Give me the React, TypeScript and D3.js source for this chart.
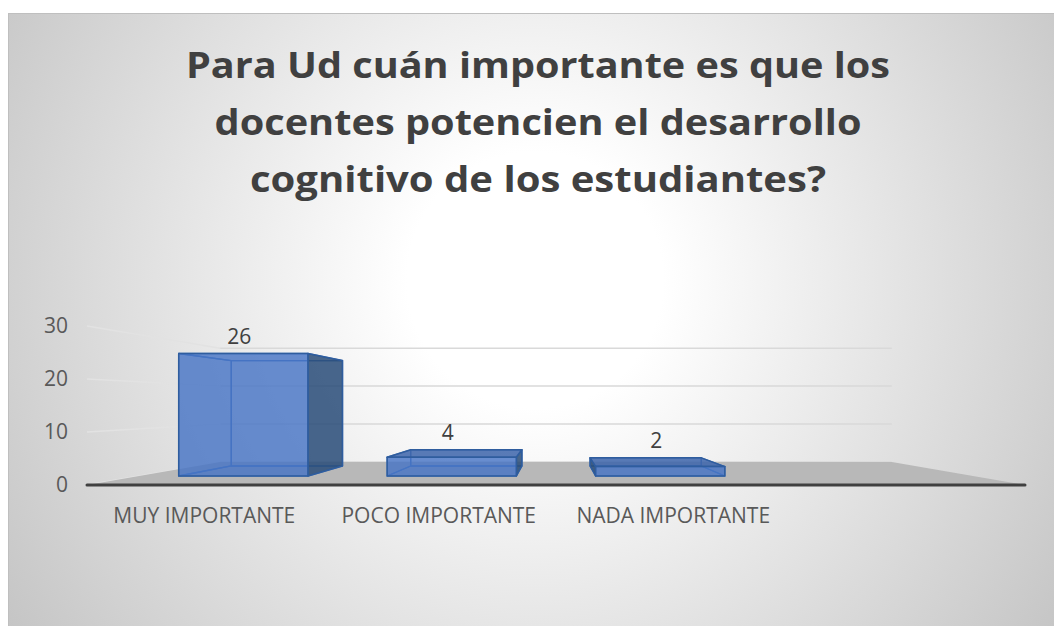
import React from 'react';
import * as d3 from 'd3';

const categories = ['MUY IMPORTANTE', 'POCO IMPORTANTE', 'NADA IMPORTANTE', ''];
const values: (number | null)[] = [26, 4, 2, null];
const yTicks = [0, 10, 20, 30];
const titleLines = [
  'Para Ud cuán importante es que los',
  'docentes potencien el desarrollo',
  'cognitivo de los estudiantes?',
];
const titleWidths = [704, 647, 576];

const width = 1054;
const height = 626;

// front plane of the 3d box
const left = 87;
const right = 1025;
const floorY = 485;
const topY = 326;
const backFloorY = 462;
const backScale = 0.716;
const vx = (left + right) / 2;
const vy = (backFloorY - floorY * backScale) / (1 - backScale);
const k = 1 / backScale - 1;
const barDepth = [0.315, 0.774];

const x = d3.scaleBand().domain(categories.map((c, i) => i + ':' + c)).range([left, right])
  .paddingInner(0.38).paddingOuter(0.19);
const xStep = d3.scaleBand().domain(categories.map((c, i) => i + ':' + c)).range([left, right]);
const y = d3.scaleLinear().domain([0, 30]).range([floorY, topY]);

function project(px: number, py: number, z: number): [number, number] {
  const s = 1 / (1 + k * z);
  return [vx + (px - vx) * s, vy + (py - vy) * s];
}

const line = d3.line();
const poly = (pts: [number, number, number][]) => line(pts.map(p => project(p[0], p[1], p[2])))! + 'Z';

function Bar({ i, v }: { i: number; v: number }) {
  const key = i + ':' + categories[i];
  const x0 = x(key)!;
  const x1 = x0 + x.bandwidth();
  const y0 = floorY;
  const y1 = y(v);
  const [z0, z1] = barDepth;
  const faces = {
    front: [[x0, y0, z0], [x1, y0, z0], [x1, y1, z0], [x0, y1, z0]],
    back: [[x0, y0, z1], [x1, y0, z1], [x1, y1, z1], [x0, y1, z1]],
    left: [[x0, y0, z0], [x0, y0, z1], [x0, y1, z1], [x0, y1, z0]],
    right: [[x1, y0, z0], [x1, y0, z1], [x1, y1, z1], [x1, y1, z0]],
    top: [[x0, y1, z0], [x1, y1, z0], [x1, y1, z1], [x0, y1, z1]],
    bottom: [[x0, y0, z0], [x1, y0, z0], [x1, y0, z1], [x0, y0, z1]],
  } as Record<string, [number, number, number][]>;
  const leftVis = x0 > vx;
  const rightVis = x1 < vx;
  const topVis = y1 > vy;
  const hidden = ['back', 'bottom'];
  if (!leftVis) hidden.push('left');
  if (!rightVis) hidden.push('right');
  if (!topVis) hidden.push('top');
  const cx = (x0 + x1) / 2;
  const labelX = project(cx, y1, z0)[0] - 4;
  const labelY = project(cx, y1, (z0 + z1) / 2)[1] - 21;
  return (
    <g>
      {hidden.map(f => (
        <path key={f} d={poly(faces[f])} fill="none" stroke="#4a7bbd" strokeWidth={1.3} strokeLinejoin="round" />
      ))}
      {leftVis && <path d={poly(faces.left)} fill="rgba(40,75,120,0.85)" stroke="#2f5d9e" strokeWidth={1.5} strokeLinejoin="round" />}
      {rightVis && <path d={poly(faces.right)} fill="rgba(40,75,120,0.85)" stroke="#2f5d9e" strokeWidth={1.5} strokeLinejoin="round" />}
      {topVis && <path d={poly(faces.top)} fill="rgba(60,100,170,0.85)" stroke="#2f5d9e" strokeWidth={1.5} strokeLinejoin="round" />}
      <path d={poly(faces.front)} fill="rgba(68,114,196,0.8)" stroke="#2f5d9e" strokeWidth={1.5} strokeLinejoin="round" />
      <text x={labelX} y={labelY} dy="0.35em" textAnchor="middle" fontSize={21} fill="#404040">{v}</text>
    </g>
  );
}

export default function App() {
  return (
    <svg width={width} height={height} style={{ position: 'absolute', left: 0, top: 0 }}
      fontFamily="'Open Sans', Lato, sans-serif">
      <defs>
        <radialGradient id="bg" gradientUnits="userSpaceOnUse" cx={535} cy={280} r={640}>
          <stop offset="0" stopColor="#ffffff" />
          <stop offset="0.2" stopColor="#ffffff" />
          <stop offset="1" stopColor="#c4c4c4" />
        </radialGradient>
      </defs>
      <rect x={0} y={0} width={width} height={height} fill="#ffffff" />
      <rect x={8.5} y={13.5} width={1100} height={700} fill="url(#bg)" stroke="#bfbfbf" />

      {titleLines.map((t, i) => (
        <text key={i} x={538} y={78 + i * 57} textAnchor="middle" fontSize={36} fontWeight="bold" fill="#404040"
          textLength={titleWidths[i]} lengthAdjust="spacingAndGlyphs">{t}</text>
      ))}

      {yTicks.map(t => {
        const a = project(left, y(t), 0);
        const b = project(left, y(t), 1);
        const c = project(right, y(t), 1);
        return (
          <g key={t}>
            <line x1={a[0]} y1={a[1]} x2={b[0]} y2={b[1]} stroke="#e2e2e2" strokeWidth={1.5} />
            <line x1={b[0]} y1={b[1]} x2={c[0]} y2={c[1]} stroke="#d9d9d9" strokeWidth={1.5} />
            <text x={68} y={y(t)} dy="0.35em" textAnchor="end" fontSize={21} fill="#595959">{t}</text>
          </g>
        );
      })}

      <path d={poly([[left, floorY, 0], [right, floorY, 0], [right, floorY, 1], [left, floorY, 1]])} fill="#b8b8b8" />
      <line x1={left} y1={floorY} x2={right} y2={floorY} stroke="#404040" strokeWidth={3} strokeLinecap="round" />

      {values.map((v, i) => (v == null ? null : <Bar key={i} i={i} v={v} />))}

      {categories.map((c, i) => (
        <text key={i} x={xStep(i + ':' + c)! + xStep.bandwidth() / 2} y={523} textAnchor="middle" fontSize={21} fill="#595959">{c}</text>
      ))}
    </svg>
  );
}
